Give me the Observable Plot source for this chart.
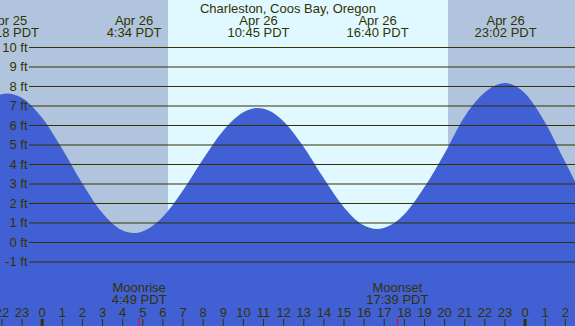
<!DOCTYPE html>
<html>
<head>
<meta charset="utf-8">
<script src="https://cdn.jsdelivr.net/npm/d3@7"></script>
<script src="https://cdn.jsdelivr.net/npm/@observablehq/plot@0.6"></script>
<style>
  html, body { margin: 0; padding: 0; background: #ffffff; overflow: hidden; }
  #chart svg { display: block; }
</style>
</head>
<body>
<div id="chart"></div>
<script>
// ---- Data (hours relative to Apr 26 00:00 PDT; heights in ft) ----
const title = "Charleston, Coos Bay, Oregon";

const extremeDates   = ["Apr 25", "Apr 26", "Apr 26", "Apr 26", "Apr 26"];
const extremeTimes   = ["22:18 PDT", "4:34 PDT", "10:45 PDT", "16:40 PDT", "23:02 PDT"];
const extremeHours   = [-1.7, 4.567, 10.75, 16.667, 23.033];
const extremeHeights = [7.62, 0.46, 6.87, 0.67, 8.15];

const readHours   = [-3, -2, -1, 0, 1, 2, 3, 4, 5, 6, 7, 8, 9, 10, 11, 12, 13, 14, 15, 16, 17, 18, 19, 20, 21, 22, 24, 25, 26, 27];
const readHeights = [6.89, 7.58, 7.40, 6.40, 4.81, 3.04, 1.51, 0.60, 0.54, 1.27, 2.61, 4.22, 5.68, 6.64, 6.84, 6.21, 4.91, 3.29, 1.81, 0.86, 0.72, 1.40, 2.78, 4.50, 6.40, 7.65, 7.64, 6.17, 4.14, 2.09];

const sunriseHour = 6.28;   // ~6:17
const sunsetHour  = 20.19;  // ~20:11

const moonLabels = ["Moonrise", "Moonset"];
const moonTimes  = ["4:49 PDT", "17:39 PDT"];
const moonHours  = [4.817, 17.65];

const gridFeet   = [-1, 0, 1, 2, 3, 4, 5, 6, 7, 8, 9, 10];
const gridLabels = ["-1 ft", "0 ft", "1 ft", "2 ft", "3 ft", "4 ft", "5 ft", "6 ft", "7 ft", "8 ft", "9 ft", "10 ft"];

const hourTicks  = [-2, -1, 0, 1, 2, 3, 4, 5, 6, 7, 8, 9, 10, 11, 12, 13, 14, 15, 16, 17, 18, 19, 20, 21, 22, 23, 24, 25, 26];
const hourLabels = ["22", "23", "0", "1", "2", "3", "4", "5", "6", "7", "8", "9", "10", "11", "12", "13", "14", "15", "16", "17", "18", "19", "20", "21", "22", "23", "0", "1", "2"];
const midnightHours = [0, 24];

// ---- Build tables ----
const xDomain = [-2.0726, 26.506];
const yDomain = [-4.3077, 12.41];

const series = readHours.map((t, i) => ({t, h: readHeights[i]}))
  .concat(extremeHours.map((t, i) => ({t, h: extremeHeights[i]})))
  .sort((a, b) => a.t - b.t);

const extremes = extremeHours.map((t, i) => ({t, date: extremeDates[i], time: extremeTimes[i]}));
const nights = [
  {x1: xDomain[0] - 2, x2: sunriseHour},
  {x1: sunsetHour, x2: xDomain[1] + 2}
];
const days = [{x1: sunriseHour, x2: sunsetHour}];
const grid = gridFeet.map((v, i) => ({v, label: gridLabels[i]}));
const hours = hourTicks.map((t, i) => ({t, label: hourLabels[i]}));
const moons = moonHours.map((t, i) => ({t, label: moonLabels[i], time: moonTimes[i]}));

const ink = "#333300";
const font = "Liberation Sans, Arial, sans-serif";

const chart = Plot.plot({
  width: 575,
  height: 326,
  margin: 0,
  x: {domain: xDomain, axis: null},
  y: {domain: yDomain, axis: null},
  style: {background: "#ffffff", fontFamily: font, fontSize: "13px", color: ink},
  marks: [
    Plot.rectX(nights, {x1: "x1", x2: "x2", fill: "#b0c4de", clip: true}),
    Plot.rectX(days, {x1: "x1", x2: "x2", fill: "#e0f8ff", clip: true}),
    Plot.areaY(series, {x: "t", y1: yDomain[0], y2: "h", fill: "#4160d4", curve: "monotone-x", clip: true}),
    Plot.ruleY(grid, {y: "v", stroke: ink, strokeWidth: 1, insetLeft: 29}),
    Plot.text(grid, {y: "v", text: "label", frameAnchor: "left", textAnchor: "end", dx: 27, fill: ink, lineAnchor: "middle"}),
    Plot.text([title], {text: d => d, frameAnchor: "top", lineAnchor: "bottom", dy: 12, fill: ink}),
    Plot.text(extremes, {x: "t", text: "date", frameAnchor: "top", lineAnchor: "bottom", dy: 24, fill: ink}),
    Plot.text(extremes, {x: "t", text: "time", frameAnchor: "top", lineAnchor: "bottom", dy: 36, fill: ink}),
    Plot.text(moons, {x: "t", text: "label", frameAnchor: "top", lineAnchor: "bottom", dy: 291, fill: ink}),
    Plot.text(moons, {x: "t", text: "time", frameAnchor: "top", lineAnchor: "bottom", dy: 303, fill: ink}),
    Plot.text(hours, {x: "t", text: "label", frameAnchor: "top", lineAnchor: "bottom", dy: 316, fill: ink}),
    Plot.ruleX(hours, {x: "t", stroke: ink, strokeWidth: 1, insetTop: 319}),
    Plot.ruleX(midnightHours, {x: d => d, stroke: ink, strokeWidth: 3, insetTop: 319}),
    Plot.ruleX(moonHours, {x: d => d, stroke: "#ff0000", strokeWidth: 1, insetTop: 318})
  ]
});

document.getElementById("chart").appendChild(chart);
</script>
</body>
</html>
